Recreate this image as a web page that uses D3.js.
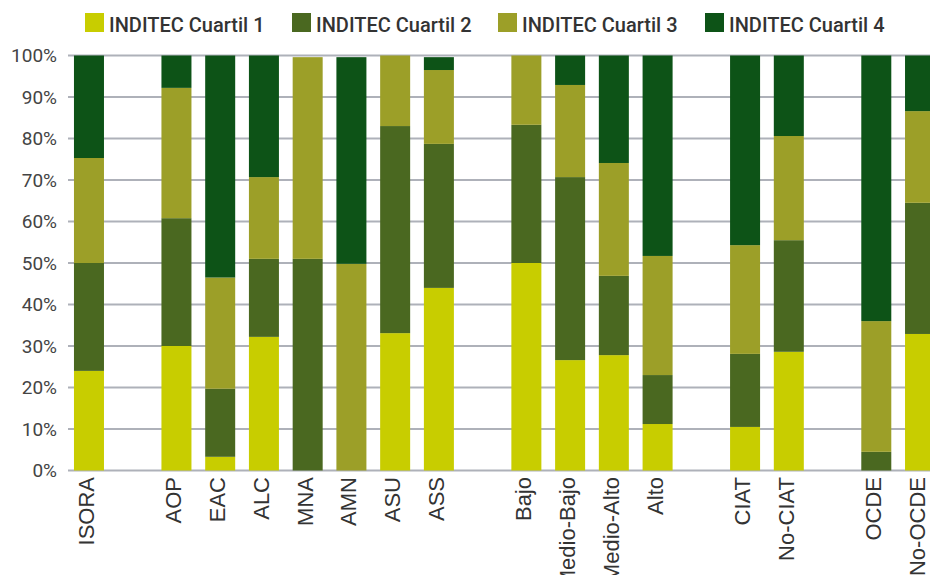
<!DOCTYPE html>
<meta charset="utf-8">
<style>
body { margin: 0; background: #fff; }
.tick-y { font-family: Roboto, sans-serif; font-size: 19px; fill: #444; }
.tick-x { font-family: "Liberation Sans Narrow", "Liberation Sans", sans-serif; font-size: 22px; fill: #333; }
.legend text { font-family: Roboto, sans-serif; font-size: 20px; font-weight: 500; fill: #333; }
</style>
<body>
<script src="https://d3js.org/d3.v7.min.js"></script>
<script>

// categories (blank slots are gaps between groups)
var categories = ["ISORA", "gap1", "AOP", "EAC", "ALC", "MNA", "AMN", "ASU", "ASS", "gap2",
                  "Bajo", "Medio-Bajo", "Medio-Alto", "Alto", "gap3", "CIAT", "No-CIAT", "gap4", "OCDE", "No-OCDE"];

var seriesNames = ["INDITEC Cuartil 1", "INDITEC Cuartil 2", "INDITEC Cuartil 3", "INDITEC Cuartil 4"];
var colors = ["#c8cd00", "#4a6820", "#9c9f28", "#0d5317"];

// percent values per category (gaps are zero)
var q1 = [24.0, 0, 30.0, 3.3, 32.2, 0, 0, 33.1, 44.0, 0, 50.0, 26.6, 27.8, 11.2, 0, 10.5, 28.6, 0, 0, 32.9];
var q2 = [26.0, 0, 30.8, 16.4, 18.8, 51.0, 0, 49.9, 34.7, 0, 33.3, 44.1, 19.1, 11.8, 0, 17.6, 26.9, 0, 4.5, 31.6];
var q3 = [25.3, 0, 31.4, 26.8, 19.7, 48.6, 49.8, 17.0, 17.8, 0, 16.7, 22.2, 27.2, 28.7, 0, 26.2, 25.1, 0, 31.5, 22.1];
var q4 = [24.7, 0, 7.8, 53.5, 29.3, 0, 49.8, 0, 3.1, 0, 0, 7.1, 25.9, 48.3, 0, 45.7, 19.4, 0, 64.0, 13.4];

var yTicks = [0, 10, 20, 30, 40, 50, 60, 70, 80, 90, 100];

var width = 930, height = 575;
var top0 = 55.5, bottom0 = 470.5;

var svg = d3.select("body").append("svg")
    .attr("width", width)
    .attr("height", height);

var x = d3.scaleBand()
    .domain(categories)
    .range([67.1, 67.1 + 20 * 43.74])
    .paddingInner(0.314)
    .paddingOuter(0.157);

var y = d3.scaleLinear()
    .domain([0, 100])
    .range([bottom0, top0]);

// gridlines
svg.append("g")
  .selectAll("line")
    .data(yTicks)
  .enter().append("line")
    .attr("x1", 68)
    .attr("x2", width)
    .attr("y1", function(d) { return y(d); })
    .attr("y2", function(d) { return y(d); })
    .attr("stroke", "#aeb1b9")
    .attr("stroke-width", 2);

// y labels
svg.append("g")
  .selectAll("text")
    .data(yTicks)
  .enter().append("text")
    .attr("class", "tick-y")
    .attr("x", 57)
    .attr("y", function(d) { return y(d); })
    .attr("dy", "0.36em")
    .attr("text-anchor", "end")
    .text(function(d) { return d + "%"; });

// stacked bars
var rows = categories.map(function(c, i) {
  return {cat: c, q1: q1[i], q2: q2[i], q3: q3[i], q4: q4[i]};
});
var stack = d3.stack().keys(["q1", "q2", "q3", "q4"]);
var layers = stack(rows);

svg.append("g")
  .selectAll("g")
    .data(layers)
  .enter().append("g")
    .attr("fill", function(d, i) { return colors[i]; })
  .selectAll("rect")
    .data(function(d) { return d.filter(function(p) { return p[1] - p[0] > 0; }); })
  .enter().append("rect")
    .attr("x", function(d) { return x(d.data.cat); })
    .attr("width", x.bandwidth())
    .attr("y", function(d) { return y(d[1]); })
    .attr("height", function(d) { return y(d[0]) - y(d[1]); });

// x labels
svg.append("g")
  .selectAll("text")
    .data(categories.filter(function(c) { return c.indexOf("gap") !== 0; }))
  .enter().append("text")
    .attr("class", "tick-x")
    .attr("text-anchor", "end")
    .attr("transform", function(d) {
      return "translate(" + (x(d) + x.bandwidth() / 2 - 3) + "," + 477 + ") rotate(-90)";
    })
    .attr("dy", "0.36em")
    .text(function(d) { return d; });

// legend
var legendX = [85, 292, 498, 705];
var legend = svg.append("g").attr("class", "legend")
  .selectAll("g")
    .data(seriesNames)
  .enter().append("g")
    .attr("transform", function(d, i) { return "translate(" + legendX[i] + ",13)"; });

legend.append("rect")
    .attr("width", 19)
    .attr("height", 19)
    .attr("fill", function(d, i) { return colors[i]; });

legend.append("text")
    .attr("x", 24)
    .attr("y", 19)
    .text(function(d) { return d; });

</script>
</body>
